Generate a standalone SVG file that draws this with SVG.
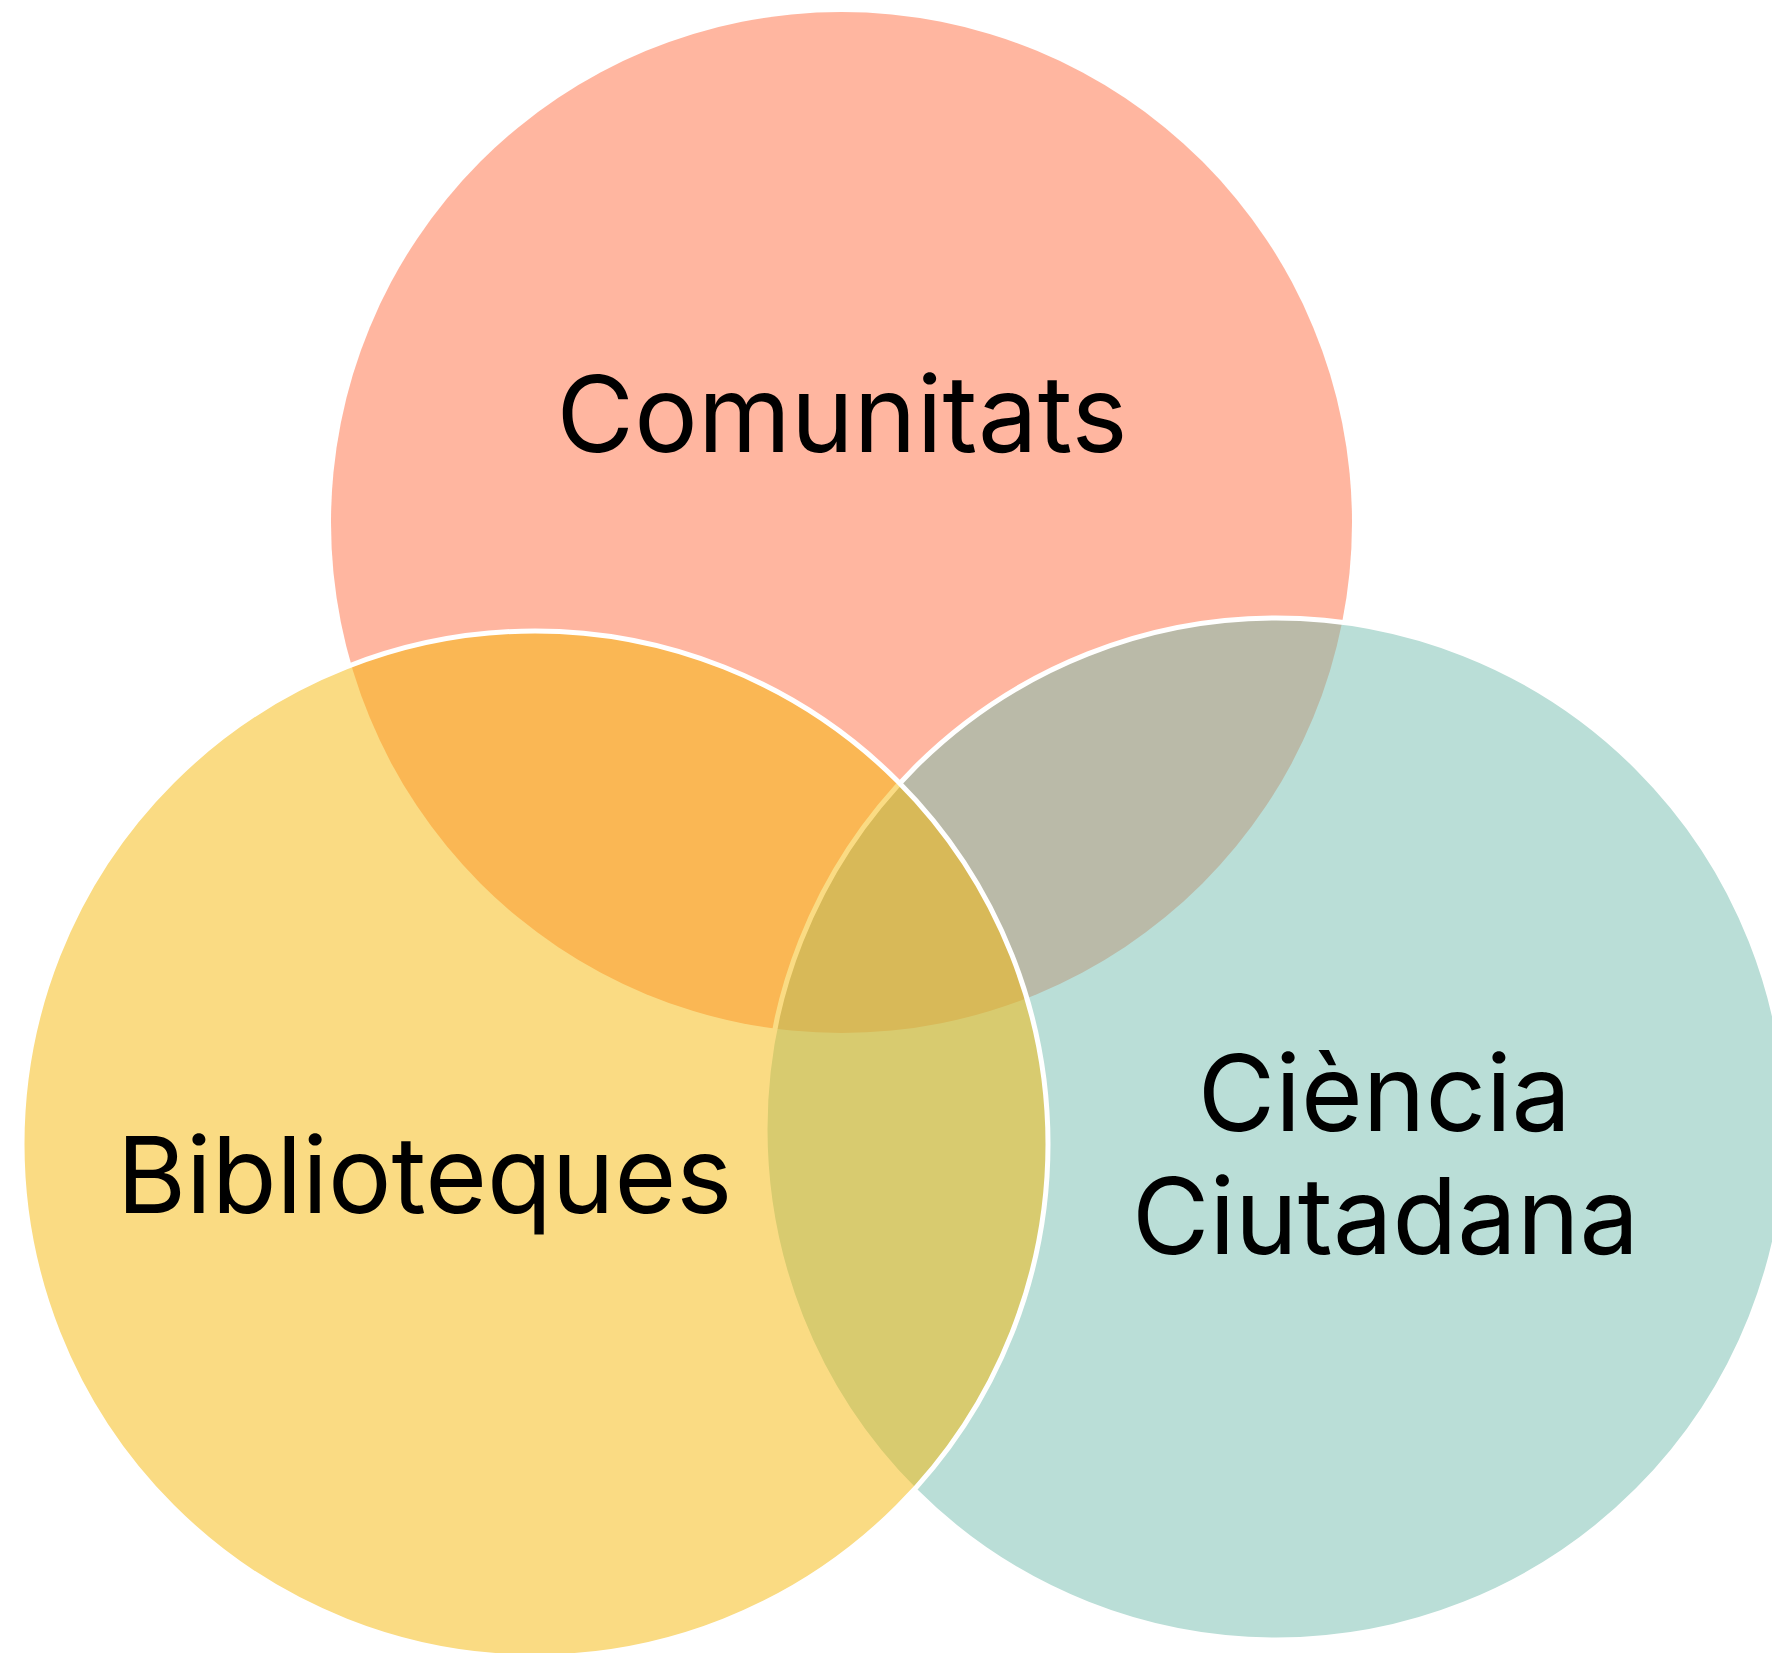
<svg xmlns="http://www.w3.org/2000/svg" width="1772" height="1653" viewBox="0 0 1772 1653">
<style>
.lbl{font-family:Inter,"Noto Sans","Liberation Sans",sans-serif;font-size:106px;fill:#000;text-anchor:middle}
.ring{stroke:#fff;stroke-width:5}
</style>
<rect width="1772" height="1653" fill="#fff"/>
<g id="comunitats">
<circle cx="841.5" cy="522.5" r="510.5" fill="#FFB6A0"/>
</g>
<g id="ciencia-ciutadana">
<circle class="ring" cx="1276" cy="1129" r="511" fill="#75BDAF" fill-opacity="0.5"/>
</g>
<g id="biblioteques">
<circle class="ring" cx="535" cy="1144" r="513" fill="#F5B807" fill-opacity="0.5"/>
</g>
<g id="connectors"></g>
<g id="labels">
<text class="lbl" x="842" y="452" textLength="571" lengthAdjust="spacing">Comunitats</text>
<text class="lbl" x="424.5" y="1213">Biblioteques</text>
<text class="lbl" x="1384.5" y="1131">Ciència</text>
<text class="lbl" x="1385.5" y="1254">Ciutadana</text>
</g>
</svg>
